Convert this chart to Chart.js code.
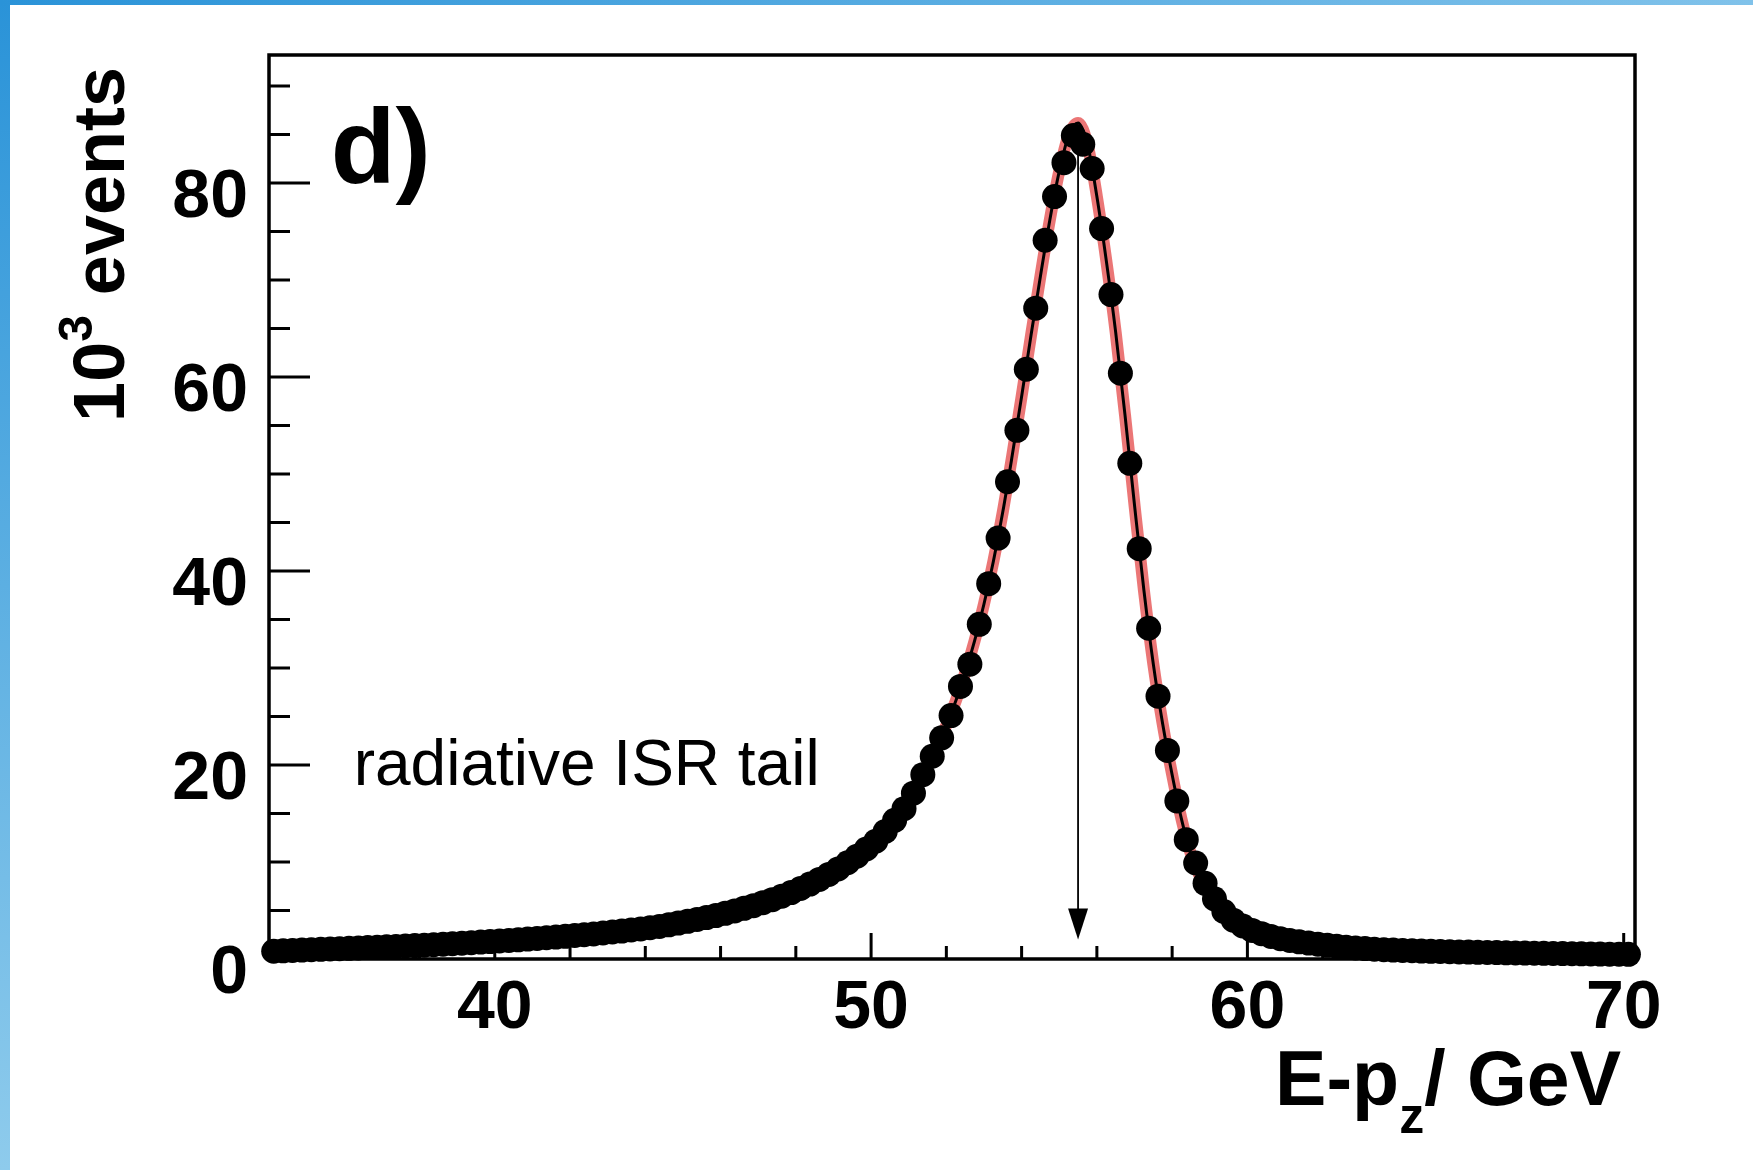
<!DOCTYPE html>
<html>
<head>
<meta charset="utf-8">
<script src="https://cdn.jsdelivr.net/npm/chart.js@4.4.1/dist/chart.umd.min.js"></script>
<style>
  html, body { margin: 0; padding: 0; background: #fff; }
  canvas { display: block; }
</style>
</head>
<body>
<canvas id="epzCanvas" width="1753" height="1170"></canvas>
<script>
/*
* Bin centres of E-pz (GeV), 0.25 GeV bins
*/
const epzBins = [
  34.125, 34.375, 34.625, 34.875, 35.125, 35.375, 35.625, 35.875, 36.125, 36.375,
  36.625, 36.875, 37.125, 37.375, 37.625, 37.875, 38.125, 38.375, 38.625, 38.875,
  39.125, 39.375, 39.625, 39.875, 40.125, 40.375, 40.625, 40.875, 41.125, 41.375,
  41.625, 41.875, 42.125, 42.375, 42.625, 42.875, 43.125, 43.375, 43.625, 43.875,
  44.125, 44.375, 44.625, 44.875, 45.125, 45.375, 45.625, 45.875, 46.125, 46.375,
  46.625, 46.875, 47.125, 47.375, 47.625, 47.875, 48.125, 48.375, 48.625, 48.875,
  49.125, 49.375, 49.625, 49.875, 50.125, 50.375, 50.625, 50.875, 51.125, 51.375,
  51.625, 51.875, 52.125, 52.375, 52.625, 52.875, 53.125, 53.375, 53.625, 53.875,
  54.125, 54.375, 54.625, 54.875, 55.125, 55.375, 55.625, 55.875, 56.125, 56.375,
  56.625, 56.875, 57.125, 57.375, 57.625, 57.875, 58.125, 58.375, 58.625, 58.875,
  59.125, 59.375, 59.625, 59.875, 60.125, 60.375, 60.625, 60.875, 61.125, 61.375,
  61.625, 61.875, 62.125, 62.375, 62.625, 62.875, 63.125, 63.375, 63.625, 63.875,
  64.125, 64.375, 64.625, 64.875, 65.125, 65.375, 65.625, 65.875, 66.125, 66.375,
  66.625, 66.875, 67.125, 67.375, 67.625, 67.875, 68.125, 68.375, 68.625, 68.875,
  69.125, 69.375, 69.625, 69.875, 70.125
];
/*
* Number of events per bin, in units of 10^3
*/
const eventsK = [
  0.80, 0.84, 0.88, 0.92, 0.96, 1.00, 1.03, 1.06, 1.10, 1.14,
  1.18, 1.22, 1.26, 1.30, 1.34, 1.38, 1.43, 1.48, 1.53, 1.58,
  1.63, 1.68, 1.74, 1.80, 1.86, 1.92, 1.98, 2.05, 2.12, 2.19,
  2.26, 2.34, 2.42, 2.50, 2.59, 2.68, 2.78, 2.88, 2.99, 3.10,
  3.22, 3.35, 3.52, 3.70, 3.88, 4.07, 4.27, 4.48, 4.71, 4.96,
  5.22, 5.50, 5.80, 6.12, 6.47, 6.85, 7.27, 7.72, 8.20, 8.72,
  9.29, 9.92, 10.60, 11.35, 12.15, 13.15, 14.30, 15.50, 17.10, 19.00,
  20.90, 22.80, 25.10, 28.10, 30.40, 34.50, 38.70, 43.40, 49.20, 54.50,
  60.80, 67.10, 74.10, 78.60, 82.10, 84.90, 84.00, 81.50, 75.30, 68.50,
  60.40, 51.10, 42.30, 34.10, 27.10, 21.50, 16.30, 12.30, 9.90, 7.80,
  6.20, 4.90, 4.00, 3.40, 2.95, 2.60, 2.32, 2.10, 1.92, 1.77,
  1.64, 1.52, 1.41, 1.31, 1.22, 1.14, 1.07, 1.01, 0.96, 0.92,
  0.88, 0.85, 0.82, 0.79, 0.77, 0.75, 0.73, 0.71, 0.69, 0.67,
  0.66, 0.64, 0.63, 0.61, 0.60, 0.58, 0.57, 0.56, 0.54, 0.53,
  0.52, 0.51, 0.50, 0.49, 0.48
];
/*
* Fitted curve
*/
const fitX = [
  50.5, 50.75, 51.0, 51.25, 51.5, 51.75, 52.0, 52.25, 52.5, 52.75,
  53.0, 53.25, 53.5, 53.75, 54.0, 54.25, 54.5, 54.75, 55.0, 55.25,
  55.5, 55.75, 56.0, 56.25, 56.5, 56.75, 57.0, 57.25, 57.5, 57.75,
  58.0, 58.25, 58.5, 58.75, 59.0
];
const fitY = [
  13.6, 14.9, 16.3, 18.0, 19.9, 21.9, 24.1, 26.6, 29.5, 32.8,
  36.6, 41.0, 46.1, 51.9, 58.0, 64.3, 70.4, 76.2, 81.2, 84.9,
  86.2, 84.0, 78.6, 72.0, 64.6, 56.0, 46.8, 38.0, 30.4, 24.2,
  19.0, 14.4, 10.8, 8.4, 6.7
];
/*
* Axis ticks
*/
const xTickLabels = [40, 50, 60, 70];
const xMinorTicks = [36, 38, 42, 44, 46, 48, 52, 54, 56, 58, 62, 64, 66, 68];
const yTickLabels = [0, 20, 40, 60, 80];
const yMinorTicks = [5, 10, 15, 25, 30, 35, 45, 50, 55, 65, 70, 75, 85, 90];
/*
* Arrow marking the peak (GeV, 10^3 events)
*/
const arrowX = 55.5;
const arrowTop = 83.6;
const arrowTip = 2.0;

const FONT = '"Liberation Sans", Arial, Helvetica, sans-serif';

/*
* Draw text made of pieces [text, size, dy] starting at x, y
*/
function piecesWidth(c, pieces){
    let w = 0;
    pieces.forEach(p => {
        c.font = 'bold ' + p[1] + 'px ' + FONT;
        w += c.measureText(p[0]).width;
    });
    return w;
}
function drawPieces(c, pieces, x, y){
    let cx = x;
    pieces.forEach(p => {
        c.font = 'bold ' + p[1] + 'px ' + FONT;
        c.fillText(p[0], cx, y + p[2]);
        cx += c.measureText(p[0]).width;
    });
}

/*
* ROOT like frame, inner ticks, arrow and labels
*/
const rootFrame = {
    id: 'rootFrame',
    beforeDraw(chart){
        const c = chart.ctx, W = chart.width, H = chart.height;
        c.save();
        c.fillStyle = '#fff';
        c.fillRect(0, 0, W, H);
        let g = c.createLinearGradient(0, 0, 0, H);
        g.addColorStop(0, '#2a93d8');
        g.addColorStop(1, '#8ecbec');
        c.fillStyle = g;
        c.fillRect(0, 0, 10, H);
        g = c.createLinearGradient(0, 0, W, 0);
        g.addColorStop(0, '#2a93d8');
        g.addColorStop(1, '#80c2ea');
        c.fillStyle = g;
        c.fillRect(0, 0, W, 5);
        c.restore();
    },
    beforeDatasetsDraw(chart){
        const c = chart.ctx, a = chart.chartArea, x = chart.scales.x, y = chart.scales.y;
        c.save();
        c.strokeStyle = '#000';
        c.lineWidth = 3;
        c.beginPath();
        xTickLabels.forEach(v => { const px = x.getPixelForValue(v); c.moveTo(px, a.bottom); c.lineTo(px, a.bottom - 26); });
        xMinorTicks.forEach(v => { const px = x.getPixelForValue(v); c.moveTo(px, a.bottom); c.lineTo(px, a.bottom - 13); });
        yTickLabels.forEach(v => { const py = y.getPixelForValue(v); c.moveTo(a.left, py); c.lineTo(a.left + 41, py); });
        yMinorTicks.forEach(v => { const py = y.getPixelForValue(v); c.moveTo(a.left, py); c.lineTo(a.left + 21, py); });
        c.stroke();
        c.lineWidth = 3.5;
        c.strokeRect(a.left, a.top, a.right - a.left, a.bottom - a.top);
        c.restore();
    },
    afterDatasetsDraw(chart){
        const c = chart.ctx, x = chart.scales.x, y = chart.scales.y;
        const ax = x.getPixelForValue(arrowX);
        const top = y.getPixelForValue(arrowTop);
        const tip = y.getPixelForValue(arrowTip);
        c.save();
        c.strokeStyle = '#000';
        c.lineWidth = 1.8;
        c.beginPath();
        c.moveTo(ax, top);
        c.lineTo(ax, tip - 20);
        c.stroke();
        c.fillStyle = '#000';
        c.beginPath();
        c.moveTo(ax, tip);
        c.lineTo(ax - 10, tip - 31);
        c.lineTo(ax + 10, tip - 31);
        c.closePath();
        c.fill();
        c.restore();
    },
    afterDraw(chart){
        const c = chart.ctx, x = chart.scales.x, y = chart.scales.y;
        c.save();
        c.fillStyle = '#000';
        c.textAlign = 'left';
        c.textBaseline = 'alphabetic';
        c.font = 'bold 106px ' + FONT;
        c.fillText('d)', x.getPixelForValue(35.64), y.getPixelForValue(80));
        c.font = '64px ' + FONT;
        c.fillText('radiative ISR tail', x.getPixelForValue(36.25), y.getPixelForValue(17.9));

        // x title, right aligned at the end of the axis
        const xt = [['E-p', 77, 0], ['z', 50, 28], ['/ GeV', 77, 0]];
        drawPieces(c, xt, 1621 - piecesWidth(c, xt), 1105);

        // y title, rotated, ending at the top of the axis
        const yt = [['10', 72, 0], ['3', 48, -32], [' events', 72, 0]];
        c.translate(124, 67);
        c.rotate(-Math.PI / 2);
        drawPieces(c, yt, -piecesWidth(c, yt), 0);
        c.restore();
    }
};

const ctx = document.getElementById('epzCanvas').getContext('2d');
const epzChart = new Chart(ctx, {
    type: 'scatter',
    data: {
        datasets: [{
            label: 'data',
            data: epzBins.map((v, i) => ({x: v, y: eventsK[i]})),
            pointRadius: 12.5,
            pointHoverRadius: 12.5,
            pointBackgroundColor: '#000',
            pointBorderWidth: 0,
            clip: false,
            order: 0
        }, {
            label: 'fit band',
            type: 'line',
            data: fitX.map((v, i) => ({x: v, y: fitY[i]})),
            borderColor: 'rgba(228, 72, 72, 0.75)',
            borderWidth: 12,
            pointRadius: 0,
            fill: false,
            cubicInterpolationMode: 'monotone',
            order: 2
        }, {
            label: 'fit',
            type: 'line',
            data: fitX.map((v, i) => ({x: v, y: fitY[i]})),
            borderColor: '#000',
            borderWidth: 3,
            pointRadius: 0,
            fill: false,
            cubicInterpolationMode: 'monotone',
            order: 1
        }]
    },
    options: {
        responsive: false,
        animation: false,
        devicePixelRatio: 1,
        layout: { padding: { left: 0, top: 55, right: 118, bottom: 0 } },
        plugins: { legend: { display: false }, tooltip: { enabled: false } },
        scales: {
            x: {
                type: 'linear',
                min: 34,
                max: 70.3,
                afterBuildTicks: s => { s.ticks = xTickLabels.map(v => ({value: v})); },
                afterFit: s => { s.height = 211; s.paddingLeft = 0; s.paddingRight = 0; },
                grid: { display: false, drawTicks: false },
                border: { display: false },
                ticks: {
                    color: '#000',
                    padding: 9,
                    maxRotation: 0,
                    autoSkip: false,
                    font: { family: FONT, weight: 'bold', size: 68 }
                }
            },
            y: {
                type: 'linear',
                min: 0,
                max: 93.2,
                afterBuildTicks: s => { s.ticks = yTickLabels.map(v => ({value: v})); },
                afterFit: s => { s.width = 269; s.paddingTop = 0; s.paddingBottom = 0; },
                grid: { display: false, drawTicks: false },
                border: { display: false },
                ticks: {
                    color: '#000',
                    padding: 21,
                    labelOffset: 15,
                    autoSkip: false,
                    font: { family: FONT, weight: 'bold', size: 68 }
                }
            }
        }
    },
    plugins: [rootFrame]
});
</script>
</body>
</html>
